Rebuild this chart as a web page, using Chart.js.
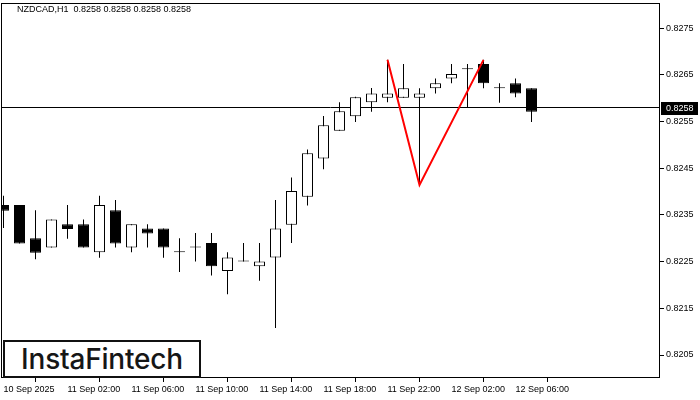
<!DOCTYPE html>
<html>
<head>
<meta charset="utf-8">
<title>NZDCAD H1</title>
<script src="https://cdn.jsdelivr.net/npm/chart.js@4/dist/chart.umd.min.js"></script>
<style>
  html, body { margin: 0; padding: 0; background: #fff; }
  #wrap { position: relative; width: 700px; height: 400px; }
  #logo {
    position: absolute; left: 3px; top: 340px; width: 194px; height: 34px;
    border: 2px solid #111; background: #fff; color: #161616;
    font-family: Inter, 'Noto Sans', sans-serif; font-size: 28px; font-weight: 500;
    line-height: 34px; text-align: center; letter-spacing: -0.2px;
  }
</style>
</head>
<body>
<div id="wrap">
  <canvas id="chart" width="700" height="400"></canvas>
  <div id="logo">InstaFintech</div>
</div>
<script>
// H1 candles, 10 Sep 22:00 .. 12 Sep 07:00
const opens  = [0.82371, 0.82371, 0.82300, 0.82280, 0.82330, 0.82330, 0.82270, 0.82360, 0.82280, 0.82321,
                0.82321, 0.82270, 0.82280, 0.82290, 0.82230, 0.82250, 0.82240, 0.82259, 0.82329, 0.82389,
                0.82471, 0.82530, 0.82561, 0.82591, 0.82601, 0.82601, 0.82601, 0.82621, 0.82642, 0.82662,
                0.82673, 0.82621, 0.82632, 0.82621];
const highs  = [0.82391, 0.82371, 0.82360, 0.82340, 0.82371, 0.82340, 0.82391, 0.82382, 0.82330, 0.82330,
                0.82321, 0.82300, 0.82311, 0.82311, 0.82270, 0.82290, 0.82290, 0.82382, 0.82430, 0.82490,
                0.82562, 0.82591, 0.82603, 0.82622, 0.82682, 0.82673, 0.82621, 0.82642, 0.82673, 0.82673,
                0.82682, 0.82632, 0.82642, 0.82621];
const lows   = [0.82322, 0.82289, 0.82255, 0.82280, 0.82299, 0.82280, 0.82258, 0.82280, 0.82270, 0.82280,
                0.82258, 0.82228, 0.82250, 0.82220, 0.82180, 0.82250, 0.82209, 0.82108, 0.82290, 0.82370,
                0.82448, 0.82530, 0.82549, 0.82571, 0.82591, 0.82601, 0.82414, 0.82610, 0.82632, 0.82580,
                0.82621, 0.82590, 0.82602, 0.82549];
const closes = [0.82359, 0.82289, 0.82269, 0.82340, 0.82320, 0.82280, 0.82371, 0.82289, 0.82330, 0.82310,
                0.82280, 0.82270, 0.82280, 0.82240, 0.82259, 0.82250, 0.82250, 0.82321, 0.82401, 0.82482,
                0.82542, 0.82572, 0.82602, 0.82610, 0.82610, 0.82621, 0.82610, 0.82632, 0.82652, 0.82662,
                0.82632, 0.82621, 0.82610, 0.82571];

// double top pattern (bar index, price)
const patternX = [24, 26, 30];
const patternY = [0.82682, 0.82414, 0.82682];

const lastPrice = 0.8258;
const titleText = 'NZDCAD,H1  0.8258 0.8258 0.8258 0.8258';

const xTickIdx = [0, 4, 8, 12, 16, 20, 24, 28, 32];
const xTickLabels = ['10 Sep 2025', '11 Sep 02:00', '11 Sep 06:00', '11 Sep 10:00', '11 Sep 14:00',
                     '11 Sep 18:00', '11 Sep 22:00', '12 Sep 02:00', '12 Sep 06:00'];
const yTicks = [0.8205, 0.8215, 0.8225, 0.8235, 0.8245, 0.8255, 0.8265, 0.8275];

// visible window
const X_MIN = -0.15625, X_MAX = 41.03125;
const Y_MIN = 0.8200077, Y_MAX = 0.8280377;

const FONT = { family: '"Liberation Sans", Arial, sans-serif', size: 9 };

const bodies = opens.map((o, i) => ({ x: i, y: [o, closes[i]] }));
const wicks = lows.map((l, i) => ({ x: i, y: [l, highs[i]] }));
const bodyFill = opens.map((o, i) => closes[i] < o ? '#000' : '#fff');
const pattern = patternX.map((x, i) => ({ x: x, y: patternY[i] }));

// no extra label padding, keep the plot frame where the terminal has it
function noPadding(scale) {
    scale.paddingTop = 0;
    scale.paddingBottom = 0;
    scale.paddingLeft = 0;
    scale.paddingRight = 0;
}

// frame, title and price tag like the terminal window
const mtDecor = {
    id: 'mtDecor',
    afterDraw(chart) {
        const { ctx, chartArea: a, scales } = chart;
        ctx.save();
        ctx.strokeStyle = '#000';
        ctx.lineWidth = 1;
        ctx.strokeRect(a.left + 0.5, a.top + 0.5, a.right - a.left - 1, a.bottom - a.top - 1);

        ctx.font = FONT.size + 'px ' + FONT.family;
        ctx.textBaseline = 'middle';
        ctx.textAlign = 'left';
        ctx.fillStyle = '#000';
        ctx.fillText(titleText, 17, 10);

        const py = Math.round(scales.y.getPixelForValue(lastPrice));
        ctx.fillRect(a.right + 1, py - 6, 37, 13);
        ctx.fillStyle = '#fff';
        ctx.fillText(lastPrice.toFixed(4), a.right + 6, py + 0.5);
        ctx.restore();
    }
};

new Chart(document.getElementById('chart'), {
    type: 'bar',
    data: {
        datasets: [
            {
                type: 'line',
                data: pattern,
                borderColor: '#ff0000',
                borderWidth: 2,
                pointRadius: 0,
                tension: 0,
                fill: false,
                order: 0
            },
            {
                type: 'bar',
                data: bodies,
                backgroundColor: bodyFill,
                borderColor: '#000',
                borderWidth: 1,
                borderSkipped: false,
                barThickness: 11,
                minBarLength: 1,
                grouped: false,
                inflateAmount: 0,
                order: 1
            },
            {
                type: 'bar',
                data: wicks,
                backgroundColor: '#000',
                borderWidth: 0,
                barThickness: 1,
                grouped: false,
                inflateAmount: 0,
                order: 2
            },
            {
                type: 'line',
                data: [{ x: X_MIN, y: lastPrice }, { x: X_MAX, y: lastPrice }],
                borderColor: '#000',
                borderWidth: 1,
                pointRadius: 0,
                fill: false,
                order: 3
            }
        ]
    },
    options: {
        responsive: false,
        animation: false,
        devicePixelRatio: 1,
        layout: { padding: { top: 3, left: 1, right: 0, bottom: 0 } },
        plugins: {
            legend: { display: false },
            tooltip: { enabled: false }
        },
        scales: {
            x: {
                type: 'linear',
                min: X_MIN,
                max: X_MAX,
                offset: false,
                border: { display: false },
                grid: { drawOnChartArea: false, drawTicks: true, tickLength: 4, color: '#000' },
                ticks: {
                    align: 'start',
                    padding: 2,
                    autoSkip: false,
                    maxRotation: 0,
                    color: '#000',
                    font: FONT,
                    callback: function(value) {
                        const k = xTickIdx.indexOf(value);
                        return k >= 0 ? xTickLabels[k] : '';
                    }
                },
                afterBuildTicks: function(scale) {
                    scale.ticks = xTickIdx.map(v => ({ value: v }));
                },
                afterFit: function(scale) {
                    scale.height = 22;
                    noPadding(scale);
                }
            },
            y: {
                type: 'linear',
                position: 'right',
                min: Y_MIN,
                max: Y_MAX,
                border: { display: false },
                grid: { drawOnChartArea: false, drawTicks: true, tickLength: 4, color: '#000' },
                ticks: {
                    padding: 2,
                    color: '#000',
                    font: FONT,
                    callback: function(value) {
                        return value.toFixed(4);
                    }
                },
                afterBuildTicks: function(scale) {
                    scale.ticks = yTicks.map(v => ({ value: v }));
                },
                afterFit: function(scale) {
                    scale.width = 40;
                    noPadding(scale);
                }
            }
        }
    },
    plugins: [mtDecor]
});
</script>
</body>
</html>
